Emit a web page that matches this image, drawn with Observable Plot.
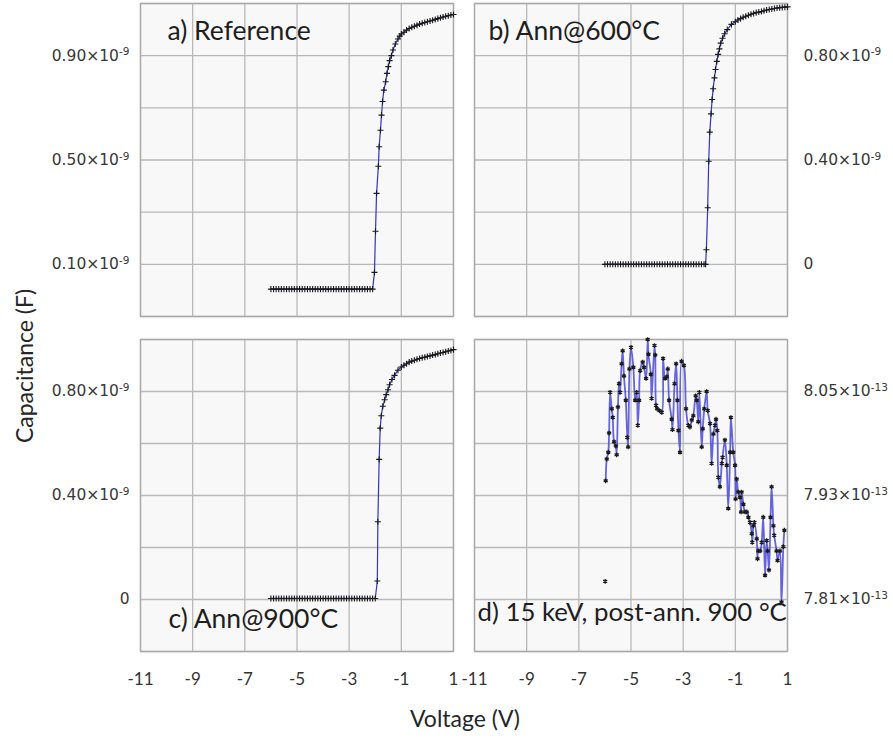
<!DOCTYPE html>
<html><head><meta charset="utf-8">
<script src="https://cdn.jsdelivr.net/npm/d3@7"></script>
<script src="https://cdn.jsdelivr.net/npm/@observablehq/plot@0.6"></script>
<style>
body{margin:0;background:#fff;}
#fig{position:relative;width:893px;height:740px;background:#fff;overflow:hidden;}
#fig svg{position:absolute;}
.lab{position:absolute;font-family:Lato,sans-serif;font-size:23px;color:#262626;white-space:nowrap;line-height:1;}
</style></head><body><div id="fig"></div>
<script>
// ---- shared axis values ----
const voltTicks = [-11, -9, -7, -5, -3, -1, 1];
const voltTickLabels = ["-11", "-9", "-7", "-5", "-3", "-1", "1"];

// ---- a) Reference (×10^-9 F) ----
const aV = [-6.0,-5.9,-5.8,-5.7,-5.6,-5.5,-5.4,-5.3,-5.2,-5.1,
  -5.0,-4.9,-4.8,-4.7,-4.6,-4.5,-4.4,-4.3,-4.2,-4.1,
  -4.0,-3.9,-3.8,-3.7,-3.6,-3.5,-3.4,-3.3,-3.2,-3.1,
  -3.0,-2.9,-2.8,-2.7,-2.6,-2.5,-2.4,-2.3,-2.2,-2.1,
  -2.03,-1.99,-1.95,-1.88,-1.85,-1.80,-1.76,-1.72,-1.67,-1.60,-1.55,-1.50,-1.45,-1.38,-1.32,-1.23,-1.13,-1.06,
  -1.0,-0.9,-0.8,-0.7,-0.6,-0.5,-0.4,-0.3,-0.2,-0.1,0.0,0.1,0.2,0.3,0.4,0.5,0.6,0.7,0.8,0.9,1.0];
const aC = [0.005,0.005,0.005,0.005,0.005,0.005,0.005,0.005,0.005,0.005,
  0.005,0.005,0.005,0.005,0.005,0.005,0.005,0.005,0.005,0.005,
  0.005,0.005,0.005,0.005,0.005,0.005,0.005,0.005,0.005,0.005,
  0.005,0.005,0.005,0.005,0.005,0.005,0.005,0.005,0.005,0.005,
  0.069,0.227,0.372,0.476,0.551,0.614,0.672,0.724,0.768,0.800,0.832,0.858,0.881,0.900,0.922,0.945,0.964,0.975,
  0.983,0.990,0.998,1.004,1.009,1.013,1.017,1.021,1.024,1.027,1.030,1.033,1.036,1.039,1.042,1.045,1.048,1.051,1.053,1.056,1.058];
const aYTicks = [0.1, 0.5, 0.9];
const aYLabels = ["0.10×10^-9", "0.50×10^-9", "0.90×10^-9"];
const aYGrid = [-0.1, 0.1, 0.3, 0.5, 0.7, 0.9, 1.1];

// ---- b) Ann@600°C (×10^-9 F) ----
const bV = [-6.0,-5.9,-5.8,-5.7,-5.6,-5.5,-5.4,-5.3,-5.2,-5.1,
  -5.0,-4.9,-4.8,-4.7,-4.6,-4.5,-4.4,-4.3,-4.2,-4.1,
  -4.0,-3.9,-3.8,-3.7,-3.6,-3.5,-3.4,-3.3,-3.2,-3.1,
  -3.0,-2.9,-2.8,-2.7,-2.6,-2.5,-2.4,-2.3,-2.2,-2.14,
  -2.11,-2.06,-2.02,-1.98,-1.93,-1.89,-1.85,-1.80,-1.76,-1.71,-1.66,-1.61,-1.56,-1.49,-1.41,-1.31,-1.15,
  -1.0,-0.9,-0.8,-0.7,-0.6,-0.5,-0.4,-0.3,-0.2,-0.1,0.0,0.1,0.2,0.3,0.4,0.5,0.6,0.7,0.8,0.9,1.0];
const bC = [0,0,0,0,0,0,0,0,0,0,
  0,0,0,0,0,0,0,0,0,0,
  0,0,0,0,0,0,0,0,0,0,
  0,0,0,0,0,0,0,0,0,0,
  0.056,0.217,0.395,0.507,0.577,0.632,0.673,0.715,0.747,0.778,0.805,0.826,0.848,0.867,0.884,0.900,0.920,
  0.930,0.937,0.942,0.947,0.951,0.955,0.959,0.962,0.965,0.967,0.969,0.972,0.975,0.977,0.979,0.981,0.983,0.984,0.985,0.986,0.987];
const bYTicks = [0, 0.4, 0.8];
const bYLabels = ["0", "0.40×10^-9", "0.80×10^-9"];
const bYGrid = [-0.2, 0, 0.2, 0.4, 0.6, 0.8, 1.0];

// ---- c) Ann@900°C (×10^-9 F) ----
const cV = [-6.0,-5.9,-5.8,-5.7,-5.6,-5.5,-5.4,-5.3,-5.2,-5.1,
  -5.0,-4.9,-4.8,-4.7,-4.6,-4.5,-4.4,-4.3,-4.2,-4.1,
  -4.0,-3.9,-3.8,-3.7,-3.6,-3.5,-3.4,-3.3,-3.2,-3.1,
  -3.0,-2.9,-2.8,-2.7,-2.6,-2.5,-2.4,-2.3,-2.2,-2.1,-2.0,
  -1.92,-1.90,-1.85,-1.81,-1.77,-1.71,-1.64,-1.58,-1.51,-1.45,-1.36,-1.26,-1.13,
  -1.0,-0.9,-0.8,-0.7,-0.6,-0.5,-0.4,-0.3,-0.2,-0.1,0.0,0.1,0.2,0.3,0.4,0.5,0.6,0.7,0.8,0.9,1.0];
const cC = [0.004,0.004,0.004,0.004,0.004,0.004,0.004,0.004,0.004,0.004,
  0.004,0.004,0.004,0.004,0.004,0.004,0.004,0.004,0.004,0.004,
  0.004,0.004,0.004,0.004,0.004,0.004,0.004,0.004,0.004,0.004,
  0.004,0.004,0.004,0.004,0.004,0.004,0.004,0.004,0.004,0.004,0.004,
  0.071,0.299,0.539,0.659,0.707,0.743,0.768,0.788,0.807,0.826,0.846,0.862,0.882,
  0.894,0.901,0.907,0.913,0.917,0.920,0.924,0.927,0.930,0.932,0.935,0.937,0.940,0.942,0.945,0.948,0.950,0.953,0.956,0.958,0.961];
const cYTicks = [0, 0.4, 0.8];
const cYLabels = ["0", "0.40×10^-9", "0.80×10^-9"];
const cYGrid = [-0.2, 0, 0.2, 0.4, 0.6, 0.8, 1.0];

// ---- d) 15 keV, post-ann. 900 °C (×10^-13 F) ----
const dV = [-5.97,-5.93,-5.87,-5.84,-5.80,-5.74,-5.70,-5.65,-5.58,-5.55,
  -5.50,-5.46,-5.42,-5.36,-5.32,-5.27,-5.20,-5.14,-5.11,-5.06,
  -5.00,-4.91,-4.84,-4.78,-4.74,-4.69,-4.65,-4.55,-4.50,-4.42,
  -4.36,-4.33,-4.24,-4.21,-4.10,-4.07,-4.04,-4.00,-3.91,-3.82,
  -3.77,-3.69,-3.63,-3.59,-3.54,-3.44,-3.41,-3.33,-3.27,-3.22,
  -3.18,-3.12,-3.06,-2.97,-2.89,-2.80,-2.74,-2.67,-2.61,-2.52,
  -2.48,-2.42,-2.38,-2.29,-2.25,-2.19,-2.10,-2.06,-1.97,-1.91,
  -1.84,-1.78,-1.74,-1.69,-1.65,-1.59,-1.52,-1.49,-1.40,-1.33,
  -1.27,-1.20,-1.17,-1.08,-1.01,-0.99,-0.95,-0.89,-0.82,-0.78,
  -0.76,-0.69,-0.63,-0.56,-0.50,-0.44,-0.37,-0.35,-0.31,-0.27,
  -0.18,-0.15,-0.12,-0.05,0.01,0.07,0.14,0.20,0.24,0.29,
  0.35,0.39,0.46,0.49,0.58,0.62,0.71,0.77,0.84,0.88];
const dC = [7.947,7.972,7.980,8.002,8.049,8.030,8.020,7.992,7.987,7.977,
  8.032,8.059,8.049,8.082,8.097,8.068,8.040,7.997,7.986,8.076,
  8.101,8.078,8.040,8.049,8.011,8.040,8.074,8.084,8.078,8.065,
  8.110,8.093,8.070,8.042,8.103,8.092,8.034,8.030,8.028,8.026,
  8.088,8.065,8.067,8.076,8.040,8.018,8.006,8.059,8.082,8.040,
  8.005,7.980,8.085,8.080,8.030,8.011,8.009,8.017,8.022,8.045,
  8.040,8.015,8.049,7.986,8.007,8.030,8.050,8.028,8.013,7.967,
  8.001,8.011,8.018,8.005,7.951,7.940,7.967,7.974,7.994,7.965,
  7.915,7.980,8.020,7.980,7.965,7.926,7.949,7.934,7.928,7.911,
  7.934,7.920,7.911,7.911,7.905,7.899,7.886,7.876,7.895,7.899,
  7.880,7.857,7.866,7.866,7.876,7.905,7.838,7.878,7.866,7.844,
  7.905,7.940,7.895,7.884,7.866,7.855,7.866,7.807,7.871,7.890];
const dOutlierV = [-5.99];
const dOutlierC = [7.831];
const dYTicks = [7.81, 7.93, 8.05];
const dYLabels = ["7.81×10^-13", "7.93×10^-13", "8.05×10^-13"];
const dYGrid = [7.75, 7.81, 7.87, 7.93, 7.99, 8.05, 8.11];

const panelTitles = ["a) Reference", "b) Ann@600°C", "c) Ann@900°C", "d) 15 keV, post-ann. 900 °C"];

// ---- drawing ----
const fig = document.getElementById("fig");

function supLabels(svg) {
  svg.querySelectorAll('g[aria-label="y-axis tick label"] text').forEach(t => {
    const s = t.textContent; const i = s.indexOf("^");
    if (i < 0) return;
    t.textContent = s.slice(0, i);
    const sp = document.createElementNS("http://www.w3.org/2000/svg", "tspan");
    sp.setAttribute("dy", "-0.5em");
    sp.setAttribute("font-size", "0.68em");
    sp.textContent = s.slice(i + 1);
    t.appendChild(sp);
  });
}

function panel(o) {
  const pts = o.V.map((v, i) => ({v, c: o.C[i]}));
  const extra = (o.exV || []).map((v, i) => ({v, c: o.exC[i]}));
  const marks = [
    Plot.frame({fill: "#f8f8f8", stroke: null}),
    Plot.gridX(voltTicks, {stroke: "#b9b9b9", strokeOpacity: 1, strokeWidth: 1.3}),
    Plot.gridY(o.yGrid, {stroke: "#b9b9b9", strokeOpacity: 1, strokeWidth: 1.3}),
    Plot.frame({stroke: "#a8a8a8", strokeWidth: 1.3}),
    Plot.line(pts, {x: "v", y: "c", stroke: o.lineColor, strokeWidth: o.lineWidth, strokeOpacity: o.lineOpacity, curve: o.curve}),
    Plot.dot(pts.concat(extra), {x: "v", y: "c", symbol: o.symbol, r: o.r, stroke: "#1a1a1a", strokeWidth: o.sw}),
    Plot.axisY(o.yTicks, {anchor: o.yAnchor, tickSize: 0, tickPadding: o.yPad,
      tickFormat: d => o.yLabels[o.yTicks.indexOf(d)], fontSize: 15.5, fill: "#383838", label: null}),
    Plot.text([o.title], {frameAnchor: o.tAnchor, dx: o.tdx, dy: o.tdy, textAnchor: "start", lineAnchor: "bottom",
      fontSize: o.tSize, fontFamily: "Lato, sans-serif", fill: "#1e1e1e"})
  ];
  if (o.xAxis) marks.push(Plot.axisX(voltTicks, {tickSize: 0, tickPadding: 21, tickFormat: d => voltTickLabels[voltTicks.indexOf(d)],
    fontSize: 17, fontFamily: "Lato, sans-serif", fill: "#333", label: null}));
  const svg = Plot.plot({
    width: o.width, height: o.height,
    marginLeft: o.mL, marginRight: o.mR, marginTop: o.mT, marginBottom: o.mB,
    x: o.xAxis ? {domain: [-11, 1]} : {domain: [-11, 1], axis: null},
    y: {domain: o.yDomain},
    style: {fontFamily: "'DejaVu Sans', sans-serif", fontSize: "15px", background: "transparent", overflow: "visible"},
    marks
  });
  supLabels(svg);
  svg.style.left = o.left + "px";
  svg.style.top = o.top + "px";
  fig.appendChild(svg);
}

const common = {lineColor: "#3333c4", lineWidth: 1.2, lineOpacity: 1, curve: "linear", symbol: "plus", r: 2.1, sw: 1.1};

panel({...common, V: aV, C: aC, yDomain: [-0.1, 1.1], yGrid: aYGrid, yTicks: aYTicks, yLabels: aYLabels,
  yAnchor: "left", yPad: 11, title: panelTitles[0], tSize: 26.5, tAnchor: "top-left", tdx: 27, tdy: 36,
  xAxis: false, width: 460, height: 330, mL: 140, mR: 7, mT: 3, mB: 14, left: 0, top: 0});

panel({...common, V: bV, C: bC, yDomain: [-0.2, 1.0], yGrid: bYGrid, yTicks: bYTicks, yLabels: bYLabels,
  yAnchor: "right", yPad: 16, title: panelTitles[1], tSize: 26.5, tAnchor: "top-left", tdx: 14, tdy: 36,
  xAxis: false, width: 433, height: 330, mL: 14, mR: 106, mT: 3, mB: 14, left: 460, top: 0});

panel({...common, V: cV, C: cC, yDomain: [-0.2, 1.0], yGrid: cYGrid, yTicks: cYTicks, yLabels: cYLabels,
  yAnchor: "left", yPad: 11, title: panelTitles[2], tSize: 26.5, tAnchor: "bottom-left", tdx: 28, tdy: -24,
  xAxis: true, width: 460, height: 360, mL: 140, mR: 7, mT: 9, mB: 39, left: 0, top: 330});

panel({V: dV, C: dC, exV: dOutlierV, exC: dOutlierC, lineColor: "#4b4bd4", lineWidth: 1.8, lineOpacity: 0.85,
  curve: "catmull-rom", symbol: "asterisk", r: 2.2, sw: 1.3,
  yDomain: [7.75, 8.11], yGrid: dYGrid, yTicks: dYTicks, yLabels: dYLabels,
  yAnchor: "right", yPad: 16, title: panelTitles[3], tSize: 25.8, tAnchor: "bottom-left", tdx: 3, tdy: -31,
  xAxis: true, width: 433, height: 360, mL: 14, mR: 106, mT: 9, mB: 39, left: 460, top: 330});

// axis titles
const yt = document.createElement("div");
yt.className = "lab"; yt.textContent = "Capacitance (F)";
yt.style.left = "24px"; yt.style.top = "366px";
yt.style.transform = "translate(-50%,-50%) rotate(-90deg)";
fig.appendChild(yt);
const xt = document.createElement("div");
xt.className = "lab"; xt.textContent = "Voltage (V)";
xt.style.left = "465px"; xt.style.top = "718px";
xt.style.transform = "translate(-50%,-50%)";
fig.appendChild(xt);
</script></body></html>
